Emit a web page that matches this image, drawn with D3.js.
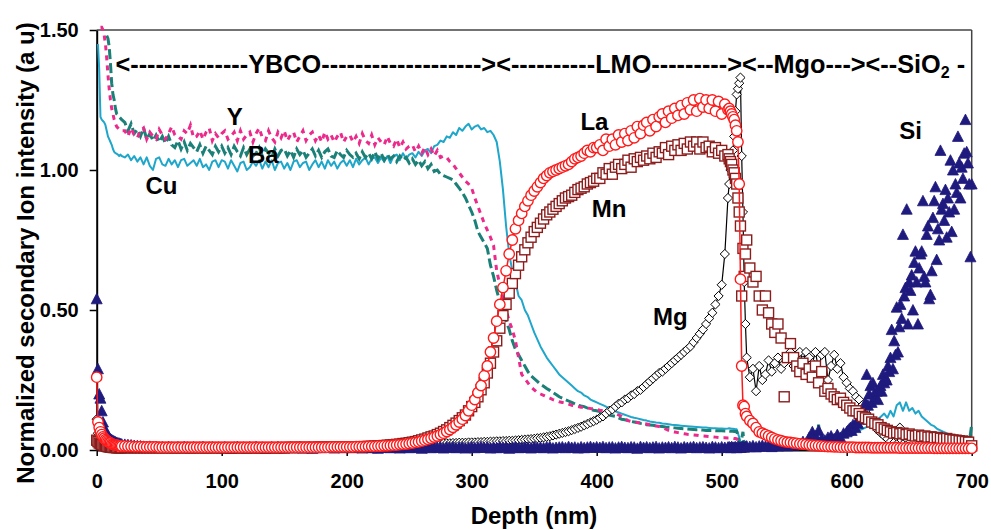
<!DOCTYPE html>
<html>
<head>
<meta charset="utf-8">
<script src="https://cdn.jsdelivr.net/npm/d3@7"></script>
<style>
  html, body { margin: 0; padding: 0; background: #fff; }
  svg { display: block; font-family: "Liberation Sans", Arial, sans-serif; }
</style>
</head>
<body>
<svg id="chart" width="991" height="530"></svg>
<script>
// Sputter depth (nm) shared by all element profiles
const depth = [
  0,1,2,3,4,5,6,7,8,9,10,11,12,13,14,15,16,17,18,19,20,
  22.5,25,27.5,30,32.5,35,37.5,40,42.5,45,47.5,50,52.5,55,57.5,60,62.5,65,67.5,70,
  72.5,75,77.5,80,82.5,85,87.5,90,92.5,95,97.5,100,
  102.5,105,107.5,110,112.5,115,117.5,120,122.5,125,127.5,130,132.5,135,137.5,140,142.5,145,147.5,150,
  152.5,155,157.5,160,162.5,165,167.5,170,172.5,175,177.5,180,182.5,185,187.5,190,192.5,195,197.5,200,
  202.5,205,207.5,210,212.5,215,217.5,220,222.5,225,227.5,230,232.5,235,237.5,240,242.5,245,247.5,250,
  252.5,255,257.5,260,262.5,265,267.5,270,272.5,275,277.5,280,282.5,285,287.5,290,292.5,295,297.5,300,
  302.5,305,307.5,310,312.5,315,317.5,320,322.5,325,327.5,330,332.5,335,337.5,340,342.5,345,347.5,350,
  352.5,355,357.5,360,362.5,365,367.5,370,372.5,375,377.5,380,382.5,385,387.5,390,392.5,395,397.5,400,
  402.5,405,407.5,410,412.5,415,417.5,420,422.5,425,427.5,430,432.5,435,437.5,440,442.5,445,447.5,450,
  452.5,455,457.5,460,462.5,465,467.5,470,472.5,475,477.5,480,482.5,485,487.5,490,492.5,495,497.5,500,
  502.5,505,
  506,507,508,509,510,511,512,513,514,515,516,517,518,519,520,
  522.5,525,527.5,530,532.5,535,537.5,540,542.5,545,547.5,550,552.5,555,557.5,560,562.5,565,567.5,570,
  572.5,575,577.5,580,582.5,585,587.5,590,592.5,595,597.5,600,
  602.5,605,607.5,610,612.5,615,617.5,620,622.5,625,627.5,630,632.5,635,637.5,640,642.5,645,647.5,650,
  652.5,655,657.5,660,662.5,665,667.5,670,672.5,675,677.5,680,682.5,685,687.5,690,692.5,695,697.5,700
];

const cu = [
  null,1.45,1.36,1.19,1.18,1.175,1.17,1.16,1.14,1.12,1.11,
  1.10,1.09,1.075,1.065,1.06,1.058,1.055,1.05,1.055,1.05,
  1.045,1.055,1.035,1.05,1.03,1.045,1.02,1.045,1.015,1.0,
  1.04,1.045,1.02,1.015,1.04,1.02,1.035,1.01,1.035,1.04,
  1.015,1.025,1.035,1.015,1.04,1.01,1.02,1.0,1.03,1.035,
  1.01,1.035,
  1.03,1.005,1.035,1.015,0.995,1.025,1.03,1.0,1.01,1.03,
  1.015,1.035,1.005,1.03,1.01,1.035,1.0,1.025,1.03,1.005,
  1.025,1.0,1.03,1.035,1.01,1.025,1.03,1.0,1.02,1.035,
  1.01,1.03,1.005,1.035,1.015,1.03,1.005,1.025,1.035,1.015,
  1.035,1.01,1.04,1.02,1.035,1.045,1.02,1.04,1.045,1.025,
  1.045,1.03,1.05,1.025,1.05,1.055,1.035,1.06,1.04,1.055,
  1.06,1.045,1.065,1.05,1.07,1.075,1.06,1.085,1.09,1.105,
  1.10,1.12,1.115,1.135,1.125,1.15,1.14,1.155,1.165,1.145,
  1.155,1.16,1.145,1.15,1.135,1.14,1.125,1.10,1.03,0.93,
  0.80,0.70,0.64,0.60,0.55,0.535,0.50,0.48,0.45,0.42,
  0.395,0.37,0.35,0.33,0.315,0.30,0.285,0.27,0.26,0.25,
  0.24,0.23,0.22,0.21,0.205,0.195,0.19,0.18,0.175,0.17,
  0.165,0.16,0.155,0.148,0.143,0.138,0.134,0.13,0.126,0.122,
  0.118,0.115,0.113,0.11,0.107,0.105,0.102,0.10,0.098,0.097,
  0.095,0.094,0.092,0.09,0.089,0.088,0.087,0.086,0.085,0.084,
  0.083,0.082,0.081,0.08,0.08,0.079,0.078,0.078,0.077,0.077,
  0.076,0.077,
  0.078,0.077,0.076,0.076,0.075,0.074,0.074,0.06,0.045,0.03,
  0.02,0.015,0.012,0.011,0.01,
  0.01,0.011,0.01,0.012,0.011,0.012,0.013,0.012,0.014,0.015,
  0.015,0.016,0.018,0.017,0.019,0.02,0.021,0.022,0.024,0.025,
  0.027,0.03,0.032,0.035,0.038,0.04,0.043,0.045,0.048,0.05,
  0.053,0.055,
  0.058,0.06,0.065,0.07,0.075,0.08,0.085,0.09,0.10,0.11,
  0.12,0.13,0.115,0.14,0.12,0.16,0.17,0.14,0.17,0.14,
  0.15,0.13,0.14,0.12,0.11,0.10,0.09,0.085,0.075,0.07,
  0.065,0.06,0.055,0.05,0.047,0.045,0.042,0.04,0.038,0.035
];

const yttrium = [
  null,null,null,1.51,1.51,1.50,1.48,1.45,1.40,1.34,1.29,
  1.25,1.22,1.20,1.18,1.165,1.155,1.15,1.145,1.14,1.14,
  1.14,1.12,1.15,1.125,1.115,1.14,1.15,1.11,1.135,1.12,
  1.11,1.145,1.125,1.11,1.13,1.155,1.125,1.12,1.11,1.14,
  1.13,1.16,1.115,1.12,1.14,1.11,1.135,1.15,1.105,1.13,
  1.115,1.13,
  1.14,1.11,1.12,1.135,1.105,1.14,1.11,1.125,1.135,1.10,
  1.13,1.15,1.115,1.105,1.14,1.115,1.10,1.135,1.115,1.14,
  1.105,1.125,1.135,1.10,1.12,1.14,1.105,1.125,1.135,1.105,
  1.125,1.10,1.135,1.11,1.125,1.10,1.12,1.135,1.10,1.12,
  1.125,1.10,1.12,1.095,1.13,1.105,1.095,1.125,1.09,1.115,
  1.10,1.09,1.12,1.095,1.085,1.11,1.08,1.10,1.075,1.085,
  1.09,1.065,1.085,1.06,1.08,1.055,1.075,1.05,1.07,1.045,
  1.05,1.045,1.03,1.02,1.005,0.99,0.975,0.96,0.95,0.935,
  0.90,0.87,0.84,0.81,0.785,0.76,0.73,0.64,0.59,0.54,
  0.50,0.46,0.43,0.39,0.33,0.27,0.255,0.24,0.225,0.215,
  0.205,0.20,0.195,0.19,0.185,0.18,0.176,0.172,0.17,0.168,
  0.164,0.16,0.158,0.155,0.153,0.152,0.15,0.148,0.147,0.145,
  0.142,0.14,0.137,0.135,0.132,0.13,0.125,0.12,0.112,0.105,
  0.102,0.10,0.098,0.097,0.095,0.093,0.09,0.088,0.086,0.084,
  0.08,0.075,0.07,0.066,0.064,0.062,0.06,0.058,0.056,0.055,
  0.054,0.053,0.051,0.05,0.049,0.048,0.047,0.046,0.045,0.044,
  0.044,0.043,
  0.043,0.042,0.042,0.042,0.041,0.041,0.04,0.03,0.02,0.015,
  0.012,0.01,0.01,0.01,0.01,
  0.01,0.009,0.01,0.011,0.01,0.009,0.01,0.01,0.011,0.01,
  0.009,0.01,0.01,0.011,0.01,0.01,0.009,0.01,0.011,0.01,
  0.01,0.009,0.01,0.01,0.011,0.01,0.009,0.01,0.01,0.011,
  0.01,0.01,
  0.01,0.011,0.01,0.009,0.01,0.01,0.011,0.01,0.01,0.009,
  0.01,0.011,0.01,0.01,0.009,0.01,0.01,0.011,0.01,0.01,
  0.009,0.01,0.011,0.01,0.01,0.009,0.01,0.01,0.011,0.01,
  0.01,0.009,0.01,0.011,0.01,0.01,0.009,0.01,0.01,0.01
];

const barium = [
  null,null,null,null,null,null,null,null,1.48,1.47,1.44,
  1.38,1.31,1.27,1.25,1.22,1.20,1.195,1.19,1.185,1.18,
  1.17,1.14,1.165,1.13,1.145,1.12,1.15,1.11,1.13,1.105,
  1.125,1.10,1.12,1.095,1.12,1.09,1.08,1.105,1.075,1.10,
  1.07,1.095,1.08,1.065,1.09,1.06,1.085,1.07,1.055,1.085,
  1.065,1.085,
  1.06,1.08,1.055,1.085,1.065,1.05,1.08,1.055,1.075,1.05,
  1.06,1.08,1.05,1.075,1.06,1.045,1.075,1.05,1.07,1.075,
  1.05,1.07,1.045,1.075,1.055,1.07,1.045,1.06,1.075,1.05,
  1.07,1.045,1.065,1.075,1.05,1.045,1.07,1.055,1.045,1.07,
  1.055,1.045,1.06,1.04,1.065,1.045,1.06,1.04,1.065,1.04,
  1.06,1.035,1.055,1.04,1.05,1.03,1.05,1.035,1.045,1.025,
  1.04,1.02,1.035,1.015,1.03,1.005,1.02,0.995,1.0,0.985,
  0.98,0.975,0.97,0.965,0.95,0.935,0.92,0.90,0.875,0.85,
  0.82,0.78,0.76,0.74,0.72,0.66,0.62,0.57,0.53,0.50,
  0.46,0.43,0.39,0.36,0.34,0.32,0.30,0.28,0.265,0.255,
  0.245,0.235,0.228,0.22,0.213,0.205,0.198,0.19,0.185,0.18,
  0.175,0.17,0.165,0.16,0.157,0.155,0.15,0.145,0.142,0.14,
  0.137,0.135,0.13,0.125,0.122,0.12,0.115,0.11,0.108,0.105,
  0.102,0.10,0.098,0.095,0.093,0.09,0.089,0.088,0.086,0.085,
  0.084,0.082,0.081,0.08,0.079,0.078,0.077,0.076,0.075,0.074,
  0.073,0.072,0.072,0.071,0.07,0.07,0.07,0.069,0.069,0.069,
  0.068,0.068,
  0.068,0.067,0.067,0.067,0.066,0.066,0.066,0.05,0.03,0.02,
  0.04,0.065,0.015,0.012,0.012,
  0.011,0.01,0.01,0.011,0.01,0.01,0.011,0.01,0.01,0.012,
  0.01,0.01,0.011,0.01,0.01,0.012,0.01,0.01,0.011,0.01,
  0.01,0.012,0.09,0.012,0.01,0.011,0.01,0.01,0.012,0.01,
  0.01,0.011,
  0.01,0.011,0.01,0.01,0.012,0.01,0.01,0.011,0.01,0.01,
  0.012,0.01,0.01,0.011,0.01,0.01,0.012,0.01,0.01,0.011,
  0.01,0.01,0.012,0.01,0.01,0.011,0.01,0.01,0.012,0.01,
  0.01,0.011,0.01,0.01,0.012,0.01,0.01,0.011,0.01,0.09
];

const lanthanum = [
  0.26,0.10,0.08,0.065,0.055,0.047,0.042,0.037,0.033,0.03,0.027,
  0.025,0.022,0.02,0.019,0.018,0.017,0.016,0.015,0.015,0.014,
  0.014,0.013,0.013,0.012,0.012,0.012,0.011,0.011,0.011,0.011,
  0.011,0.01,0.01,0.01,0.01,0.01,0.01,0.01,0.01,0.01,
  0.01,0.01,0.01,0.01,0.01,0.01,0.01,0.01,0.01,0.01,
  0.01,0.01,
  0.01,0.01,0.01,0.01,0.01,0.01,0.01,0.01,0.01,0.01,
  0.01,0.01,0.01,0.01,0.01,0.01,0.01,0.01,0.01,0.01,
  0.01,0.01,0.01,0.01,0.01,0.01,0.01,0.01,0.01,0.01,
  0.01,0.01,0.01,0.01,0.011,0.011,0.011,0.011,0.011,0.011,
  0.011,0.011,0.012,0.012,0.012,0.012,0.013,0.013,0.013,0.014,
  0.014,0.015,0.015,0.016,0.017,0.018,0.019,0.02,0.021,0.023,
  0.025,0.027,0.029,0.032,0.035,0.038,0.042,0.046,0.05,0.055,
  0.06,0.066,0.073,0.081,0.09,0.10,0.11,0.123,0.14,0.16,
  0.18,0.205,0.23,0.265,0.30,0.35,0.40,0.46,0.52,0.58,
  0.64,0.70,0.75,0.79,0.82,0.845,0.87,0.89,0.91,0.925,
  0.94,0.955,0.97,0.98,0.99,0.995,1.00,1.005,1.01,1.015,
  1.02,1.03,1.04,1.045,1.05,1.06,1.07,1.065,1.08,1.08,
  1.09,1.07,1.11,1.085,1.11,1.09,1.125,1.10,1.13,1.105,
  1.14,1.115,1.155,1.13,1.16,1.17,1.14,1.18,1.155,1.19,
  1.20,1.17,1.21,1.185,1.22,1.195,1.23,1.20,1.24,1.215,
  1.25,1.21,1.255,1.225,1.25,1.22,1.25,1.21,1.245,1.20,
  1.235,1.215,
  1.22,1.21,1.20,1.19,1.18,1.16,1.14,1.10,0.95,0.61,
  0.30,0.16,0.155,0.13,0.12,
  0.105,0.095,0.08,0.065,0.06,0.055,0.05,0.045,0.04,0.036,
  0.033,0.03,0.028,0.027,0.025,0.024,0.022,0.021,0.02,0.018,
  0.017,0.016,0.015,0.014,0.013,0.012,0.012,0.011,0.011,0.01,
  0.01,0.01,
  0.01,0.01,0.009,0.009,0.009,0.009,0.009,0.008,0.008,0.008,
  0.008,0.008,0.008,0.008,0.008,0.008,0.007,0.007,0.007,0.007,
  0.007,0.007,0.007,0.007,0.007,0.007,0.007,0.006,0.006,0.006,
  0.006,0.006,0.006,0.006,0.006,0.006,0.006,0.006,0.006,0.006
];

const manganese = [
  0.035,0.03,0.025,0.022,0.02,0.018,0.016,0.015,0.013,0.012,0.011,
  0.01,0.01,0.009,0.009,0.009,0.008,0.008,0.008,0.008,0.008,
  0.008,0.008,0.008,0.008,0.008,0.008,0.008,0.008,0.008,0.008,
  0.008,0.008,0.008,0.008,0.008,0.008,0.008,0.008,0.008,0.008,
  0.008,0.008,0.008,0.008,0.008,0.008,0.008,0.008,0.008,0.008,
  0.008,0.008,
  0.008,0.008,0.008,0.008,0.008,0.008,0.008,0.008,0.008,0.008,
  0.008,0.008,0.008,0.008,0.008,0.008,0.008,0.008,0.008,0.008,
  0.009,0.009,0.009,0.009,0.009,0.009,0.009,0.009,0.009,0.009,
  0.01,0.01,0.01,0.01,0.01,0.01,0.01,0.01,0.01,0.01,
  0.01,0.01,0.011,0.011,0.012,0.012,0.013,0.013,0.014,0.014,
  0.015,0.016,0.017,0.018,0.019,0.02,0.021,0.023,0.024,0.026,
  0.028,0.03,0.033,0.036,0.039,0.043,0.047,0.05,0.055,0.06,
  0.066,0.072,0.08,0.088,0.096,0.105,0.115,0.125,0.14,0.155,
  0.17,0.19,0.215,0.24,0.275,0.31,0.35,0.39,0.435,0.48,
  0.52,0.56,0.595,0.63,0.66,0.69,0.715,0.74,0.76,0.78,
  0.795,0.81,0.825,0.84,0.85,0.86,0.87,0.88,0.89,0.90,
  0.905,0.91,0.92,0.93,0.935,0.94,0.95,0.955,0.96,0.97,
  0.97,0.99,0.985,1.005,0.985,1.01,1.02,1.005,1.02,1.035,
  1.01,1.04,1.03,1.045,1.035,1.05,1.04,1.06,1.045,1.065,
  1.06,1.08,1.055,1.085,1.07,1.09,1.07,1.095,1.075,1.10,
  1.085,1.10,1.075,1.10,1.08,1.085,1.065,1.08,1.06,1.07,
  1.05,1.055,
  1.04,1.03,1.02,1.0,0.99,0.97,0.95,0.90,0.85,0.80,
  0.55,0.72,0.62,0.70,0.75,
  0.65,0.60,0.62,0.55,0.50,0.55,0.49,0.45,0.42,0.45,
  0.40,0.19,0.33,0.38,0.33,0.30,0.28,0.31,0.27,0.29,
  0.26,0.30,0.24,0.28,0.21,0.22,0.20,0.19,0.18,0.185,
  0.17,0.16,
  0.15,0.14,0.14,0.13,0.12,0.115,0.11,0.10,0.095,0.09,
  0.08,0.075,0.07,0.065,0.06,0.062,0.058,0.06,0.055,0.057,
  0.052,0.05,0.053,0.048,0.05,0.046,0.047,0.044,0.045,0.042,
  0.04,0.041,0.038,0.036,0.035,0.033,0.032,0.03,0.028,0.015
];

const magnesium = [
  0.11,0.06,0.03,0.02,0.016,0.013,0.012,0.011,0.01,0.01,0.009,
  0.009,0.009,0.008,0.008,0.008,0.008,0.008,0.008,0.008,0.008,
  0.008,0.008,0.008,0.008,0.008,0.008,0.008,0.008,0.008,0.008,
  0.008,0.008,0.008,0.008,0.008,0.008,0.008,0.008,0.008,0.008,
  0.008,0.008,0.008,0.008,0.008,0.008,0.008,0.008,0.008,0.008,
  0.008,0.008,
  0.008,0.008,0.008,0.008,0.008,0.008,0.008,0.008,0.008,0.008,
  0.009,0.009,0.009,0.009,0.009,0.009,0.009,0.009,0.009,0.009,
  0.01,0.01,0.01,0.01,0.01,0.01,0.01,0.01,0.01,0.01,
  0.011,0.011,0.011,0.011,0.011,0.012,0.012,0.012,0.012,0.012,
  0.012,0.013,0.013,0.013,0.014,0.014,0.014,0.015,0.015,0.015,
  0.016,0.016,0.016,0.017,0.017,0.018,0.018,0.018,0.019,0.019,
  0.02,0.02,0.02,0.021,0.021,0.022,0.022,0.022,0.023,0.023,
  0.024,0.024,0.024,0.025,0.025,0.026,0.026,0.026,0.027,0.027,
  0.027,0.028,0.028,0.029,0.029,0.03,0.03,0.031,0.031,0.032,
  0.032,0.033,0.033,0.034,0.035,0.036,0.037,0.038,0.039,0.04,
  0.042,0.043,0.045,0.047,0.049,0.052,0.055,0.058,0.061,0.064,
  0.067,0.071,0.075,0.079,0.083,0.088,0.093,0.098,0.103,0.108,
  0.115,0.12,0.13,0.14,0.145,0.155,0.165,0.17,0.18,0.185,
  0.195,0.20,0.21,0.215,0.225,0.235,0.245,0.255,0.265,0.275,
  0.28,0.29,0.30,0.31,0.32,0.33,0.34,0.35,0.36,0.37,
  0.385,0.40,0.415,0.43,0.45,0.47,0.49,0.52,0.55,0.59,
  0.70,0.90,
  0.95,1.0,1.03,1.07,1.12,1.21,1.27,1.29,1.31,1.33,
  1.05,0.85,0.60,0.45,0.33,
  0.26,0.29,0.21,0.30,0.25,0.27,0.32,0.28,0.31,0.33,
  0.29,0.31,0.33,0.35,0.30,0.34,0.35,0.32,0.35,0.33,
  0.31,0.35,0.29,0.34,0.35,0.25,0.30,0.34,0.29,0.31,
  0.26,0.24,
  0.22,0.21,0.19,0.18,0.16,0.14,0.12,0.11,0.09,0.07,
  0.06,0.05,0.04,0.03,0.025,0.02,0.08,0.02,0.015,0.012,
  0.01,0.01,0.01,0.01,0.01,0.01,0.01,0.01,0.01,0.01,
  0.01,0.01,0.01,0.01,0.01,0.01,0.01,0.01,0.01,0.01
];

// Si follows the shared grid down to 600 nm, then a 1 nm grid through the substrate
const siDepthTail = [
  601,602,603,604,605,606,607,608,609,610,611,612,613,614,615,616,617,618,619,620,
  621,622,623,624,625,626,627,628,629,630,631,632,633,634,635,636,637,638,639,640,
  641,642,643,644,645,646,647,648,649,650,651,652,653,654,655,656,657,658,659,660,
  661,662,663,664,665,666,667,668,669,670,671,672,673,674,675,676,677,678,679,680,
  681,682,683,684,685,686,687,688,689,690,691,692,693,694,695,696,697,698,699,700
];
const siDepth = depth.filter(d => d <= 600).concat(siDepthTail);

const silicon = [
  0.54,0.29,0.20,0.185,0.14,0.10,0.08,0.065,0.055,0.05,0.045,
  0.04,0.037,0.034,0.031,0.029,0.027,0.025,0.024,0.022,0.021,
  0.02,0.019,0.018,0.016,0.015,0.014,0.013,0.012,0.013,0.011,
  0.012,0.01,0.011,0.009,0.012,0.01,0.008,0.011,0.009,0.012,
  0.01,0.008,0.011,0.009,0.01,0.012,0.008,0.01,0.011,0.009,
  0.01,0.008,
  0.011,0.009,0.006,0.01,0.012,0.008,0.01,0.007,0.011,0.009,
  0.012,0.008,0.01,0.006,0.009,0.011,0.008,0.012,0.01,0.007,
  0.009,0.011,0.008,0.01,0.012,0.007,0.009,0.011,0.006,0.01,
  0.012,0.008,0.01,0.009,0.011,0.007,0.01,0.012,0.008,0.009,
  0.011,0.008,0.01,0.012,0.007,0.009,0.011,0.008,0.01,0.006,
  0.009,0.012,0.01,0.008,0.011,0.009,0.007,0.01,0.012,0.008,
  0.01,0.011,0.009,0.006,0.01,0.012,0.008,0.011,0.009,0.01,
  0.007,0.011,0.009,0.012,0.008,0.01,0.011,0.007,0.009,0.012,
  0.008,0.01,0.012,0.009,0.011,0.007,0.01,0.008,0.012,0.009,
  0.011,0.006,0.01,0.012,0.008,0.009,0.011,0.01,0.007,0.012,
  0.009,0.01,0.008,0.011,0.012,0.007,0.009,0.01,0.011,0.008,
  0.012,0.009,0.01,0.007,0.011,0.008,0.01,0.012,0.009,0.011,
  0.009,0.012,0.008,0.01,0.011,0.007,0.01,0.012,0.009,0.008,
  0.011,0.01,0.006,0.012,0.009,0.011,0.008,0.01,0.012,0.007,
  0.01,0.009,0.011,0.008,0.012,0.01,0.007,0.011,0.009,0.01,
  0.012,0.008,0.01,0.011,0.009,0.007,0.012,0.01,0.008,0.011,
  0.009,0.01,
  0.011,0.008,0.012,0.009,0.01,0.011,0.008,0.012,0.01,0.009,
  0.011,0.013,0.01,0.012,0.014,
  0.012,0.015,0.011,0.014,0.016,0.013,0.015,0.012,0.017,0.014,
  0.016,0.018,0.015,0.02,0.017,0.022,0.02,0.03,0.025,0.045,
  0.065,0.05,0.07,0.04,0.035,0.045,0.05,0.04,0.055,0.045,
  0.06,0.065,
  0.07,0.075,0.08,0.07,0.09,0.085,0.08,0.10,0.095,0.11,
  0.115,0.12,0.14,0.13,0.17,0.27,0.16,0.20,0.23,0.17,
  0.24,0.20,0.19,0.21,0.18,0.22,0.23,0.21,0.27,0.24,
  0.26,0.25,0.30,0.28,0.33,0.43,0.29,0.39,0.34,0.51,
  0.35,0.44,0.52,0.47,0.77,0.55,0.58,0.86,0.45,0.60,
  0.57,0.625,0.50,0.67,0.71,0.60,0.45,0.65,0.70,0.71,
  0.89,0.62,0.60,0.77,0.80,0.54,0.555,0.64,0.83,0.89,
  0.94,0.68,0.79,0.75,1.07,0.86,0.88,0.82,0.93,0.76,
  0.90,0.85,1.035,0.78,1.0,0.86,0.95,0.92,1.12,1.025,
  0.90,1.01,0.97,1.06,1.18,1.065,1.025,0.95,0.69,0.95
];

const xTicks = [0, 100, 200, 300, 400, 500, 600, 700];
const yTicks = [0, 0.5, 1.0, 1.5];

// Curve name tags, placed in data units (left edge / baseline)
const seriesTags = [
  { text: "Y",  depth: 104, value: 1.16 },
  { text: "Ba", depth: 121, value: 1.025 },
  { text: "Cu", depth: 39,  value: 0.915 },
  { text: "La", depth: 387, value: 1.143 },
  { text: "Mn", depth: 396, value: 0.832 },
  { text: "Mg", depth: 445, value: 0.446 },
  { text: "Si", depth: 642, value: 1.11 }
];

[["cu", cu], ["yttrium", yttrium], ["barium", barium], ["lanthanum", lanthanum],
 ["manganese", manganese], ["magnesium", magnesium]].forEach(([n, a]) => {
  if (a.length !== depth.length) throw new Error(n + " has " + a.length + " values, expected " + depth.length);
});
if (silicon.length !== siDepth.length) throw new Error("silicon has " + silicon.length + " values, expected " + siDepth.length);

const svg = d3.select("#chart");
const x = d3.scaleLinear().domain([0, 700]).range([96.7, 971.7]);
const y = d3.scaleLinear().domain([0, 1.5]).range([450, 30]);

// frame: top and right edges
svg.append("line").attr("x1", x(0)).attr("x2", x(700)).attr("y1", y(1.5)).attr("y2", y(1.5))
  .attr("stroke", "#444").attr("stroke-width", 1.5);
svg.append("line").attr("x1", x(700)).attr("x2", x(700)).attr("y1", y(1.5)).attr("y2", y(0))
  .attr("stroke", "#444").attr("stroke-width", 1.5);

// axes
const yAxis = svg.append("g").attr("transform", `translate(${x(0)},0)`)
  .call(d3.axisLeft(y).tickValues(yTicks).tickFormat(d3.format(".2f")).tickSize(7).tickPadding(11).tickSizeOuter(0));
const xAxis = svg.append("g").attr("transform", `translate(0,${y(0)})`)
  .call(d3.axisBottom(x).tickValues(xTicks).tickFormat(d3.format("d")).tickSize(6).tickPadding(18).tickSizeOuter(0));
[yAxis, xAxis].forEach(g => {
  g.selectAll("path.domain").attr("stroke", "#000").attr("stroke-width", 2);
  g.selectAll(".tick line").attr("stroke", "#000").attr("stroke-width", 1.5);
  g.selectAll(".tick text").attr("font-size", 20).attr("font-weight", "bold")
    .attr("font-family", "'Liberation Sans', Arial, sans-serif").attr("fill", "#000");
});

// axis titles
svg.append("text").attr("transform", "translate(34,253) rotate(-90)")
  .attr("text-anchor", "middle").attr("font-size", 24).attr("font-weight", "bold")
  .text("Normalized secondary Ion intensity (a u)");
svg.append("text").attr("x", 534).attr("y", 524)
  .attr("text-anchor", "middle").attr("font-size", 24).attr("font-weight", "bold")
  .text("Depth (nm)");

// layer banner across the top
const banner = svg.append("text").attr("x", 115.5).attr("y", 73)
  .attr("font-size", 25.3).attr("font-weight", "bold");
banner.append("tspan").text("<" + "-".repeat(14) + "YBCO" + "-".repeat(19) + "><" + "-".repeat(10) +
  "LMO" + "-".repeat(9) + "><--Mgo---><--SiO");
banner.append("tspan").attr("font-size", 16).attr("dy", 5).text("2");
banner.append("tspan").attr("dy", -5).text(" -");

const series = (xs, vs) => xs.map((d, i) => ({ d, v: vs[i] }));
const markers = (xs, vs) => series(xs, vs).filter(p => p.v != null);
const lineGen = d3.line().defined(p => p.v != null).x(p => x(p.d)).y(p => y(p.v));

const plot = svg.append("g");

// YBCO elements as lines
plot.append("path").attr("d", lineGen(series(depth, cu))).attr("fill", "none")
  .attr("stroke", "#1ea6cb").attr("stroke-width", 2).attr("stroke-linejoin", "round");
plot.append("path").attr("d", lineGen(series(depth, barium))).attr("fill", "none")
  .attr("stroke", "#1b8078").attr("stroke-width", 3).attr("stroke-dasharray", "10,4");
plot.append("path").attr("d", lineGen(series(depth, yttrium))).attr("fill", "none")
  .attr("stroke", "#ec2a8c").attr("stroke-width", 3).attr("stroke-dasharray", "5,5");

// Mg: line with open diamonds
plot.append("path").attr("d", lineGen(series(depth, magnesium))).attr("fill", "none")
  .attr("stroke", "#000").attr("stroke-width", 1.2);
plot.append("g").selectAll("path").data(markers(depth, magnesium)).join("path")
  .attr("transform", p => `translate(${x(p.d)},${y(p.v)})`)
  .attr("d", "M0,-4.6L4.6,0L0,4.6L-4.6,0Z")
  .attr("fill", "#fff").attr("stroke", "#000").attr("stroke-width", 1);

// Si: filled triangles
plot.append("g").selectAll("path").data(markers(siDepth, silicon)).join("path")
  .attr("transform", p => `translate(${x(p.d)},${y(p.v)})`)
  .attr("d", "M0,-5.5L5.5,5L-5.5,5Z")
  .attr("fill", "#1f1a7d").attr("stroke", "#1f1a7d").attr("stroke-width", 0.8);

// Mn: open squares
plot.append("g").selectAll("rect").data(markers(depth, manganese)).join("rect")
  .attr("x", p => x(p.d) - 5).attr("y", p => y(p.v) - 5)
  .attr("width", 10).attr("height", 10)
  .attr("fill", "#fff").attr("stroke", "#8c1c1c").attr("stroke-width", 1.4);

// La: line with open circles
plot.append("path").attr("d", lineGen(series(depth, lanthanum))).attr("fill", "none")
  .attr("stroke", "#ff1a1a").attr("stroke-width", 1.5);
plot.append("g").selectAll("circle").data(markers(depth, lanthanum)).join("circle")
  .attr("cx", p => x(p.d)).attr("cy", p => y(p.v)).attr("r", 5.2)
  .attr("fill", "#fff").attr("stroke", "#ff1a1a").attr("stroke-width", 1.4);

// curve name tags
svg.append("g").selectAll("text").data(seriesTags).join("text")
  .attr("x", t => x(t.depth)).attr("y", t => y(t.value))
  .attr("font-size", 24).attr("font-weight", "bold")
  .text(t => t.text);
</script>
</body>
</html>
